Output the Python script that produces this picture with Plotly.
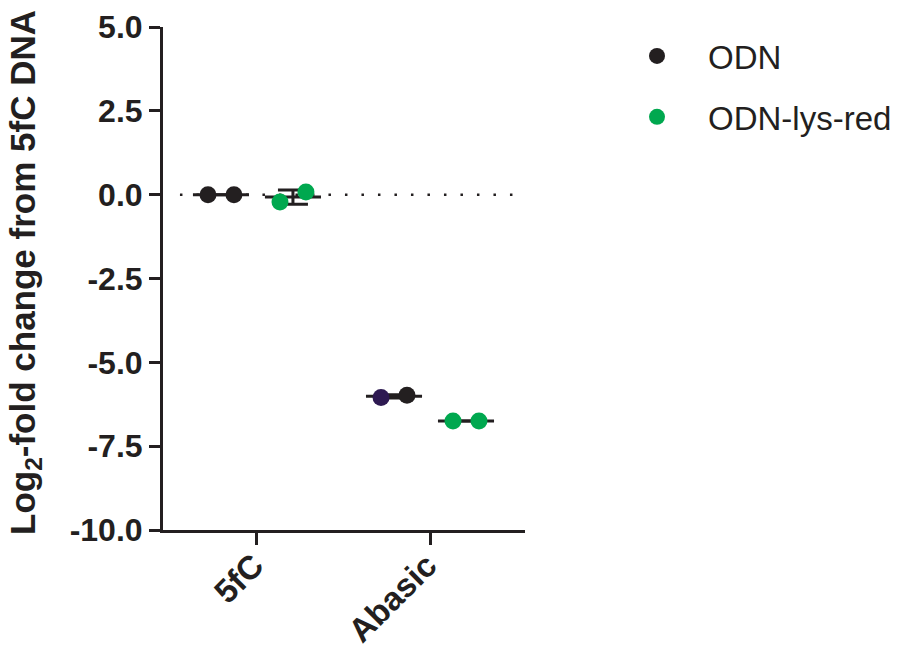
import numpy as np
import plotly.graph_objects as go

# ---- data ----
categories = ["5fC", "Abasic"]
series_names = ["ODN", "ODN-lys-red"]
odn_rep1 = [0.0, -6.05]
odn_rep2 = [0.0, -5.98]
lys_rep1 = [-0.22, -6.75]
lys_rep2 = [0.08, -6.75]
y_tick_vals = [-10.0, -7.5, -5.0, -2.5, 0.0, 2.5, 5.0]
y_tick_text = ["-10.0", "-7.5", "-5.0", "-2.5", "0.0", "2.5", "5.0"]

BLACK = "#231f20"
GREEN = "#00a84f"
PURPLE = "#2e1a52"
FONT = "Liberation Sans, Arial, sans-serif"

group_off = 0.208
rep_off = 0.075
half_line = 0.162

fig = go.Figure()

groups = [
    (series_names[0], [odn_rep1, odn_rep2], -group_off,
     [[BLACK, BLACK], [PURPLE, BLACK]]),
    (series_names[1], [lys_rep1, lys_rep2], group_off,
     [[GREEN, GREEN], [GREEN, GREEN]]),
]

# mean lines + SD error bars first (behind points)
for name, reps, goff, cols in groups:
    for i, cat in enumerate(categories):
        vals = np.array([reps[0][i], reps[1][i]])
        m = vals.mean()
        sd = vals.std(ddof=1)
        cx = i + goff
        fig.add_trace(go.Scatter(
            x=[cx - half_line, cx + half_line], y=[m, m], mode="lines",
            line=dict(color=BLACK, width=3), showlegend=False, hoverinfo="skip"))
        fig.add_trace(go.Scatter(
            x=[cx], y=[m], mode="markers", marker=dict(size=1, color="rgba(0,0,0,0)"),
            error_y=dict(type="data", array=[sd], visible=True, color=BLACK,
                         thickness=3, width=15),
            showlegend=False, hoverinfo="skip"))

for gi, (name, reps, goff, cols) in enumerate(groups):
    xs, ys, cs = [], [], []
    for i, cat in enumerate(categories):
        for r in range(2):
            xs.append(i + goff + (-rep_off if r == 0 else rep_off))
            ys.append(reps[r][i])
            cs.append(cols[i][r])
    fig.add_trace(go.Scatter(
        x=xs, y=ys, mode="markers", name=name, legendgroup=name,
        marker=dict(size=17, color=cs, line=dict(width=0))))

# dotted reference line at 0
fig.add_shape(type="line", xref="x", yref="y", x0=-0.445, x1=1.49, y0=0, y1=0,
              line=dict(color=BLACK, width=2.5, dash="2.5px,14px"), layer="below")

fig.update_layout(
    width=909, height=648,
    margin=dict(l=163, r=384, t=27, b=118, pad=0),
    paper_bgcolor="white", plot_bgcolor="white",
    font=dict(family=FONT, color=BLACK),
    showlegend=True,
    legend=dict(xref="container", yref="container", x=606 / 909, y=1 - 28 / 648,
                xanchor="left", yanchor="top", font=dict(size=33, color=BLACK),
                tracegroupgap=15, itemwidth=92, bgcolor="rgba(0,0,0,0)"),
    xaxis=dict(range=[-0.543, 1.549], tickvals=[0, 1], ticktext=categories,
               tickangle=-45, ticks="outside", ticklen=12, tickwidth=3,
               tickcolor=BLACK, showline=True, linewidth=3, linecolor=BLACK,
               showgrid=False, zeroline=False, automargin=False,
               ticklabelstandoff=-12, ticklabelshift=-3,
               tickfont=dict(size=33, color=BLACK, family=FONT, weight="bold")),
    yaxis=dict(range=[-10, 5], tickvals=y_tick_vals, ticktext=y_tick_text,
               ticks="outside", ticklen=11, tickwidth=3, tickcolor=BLACK,
               showline=True, linewidth=3, linecolor=BLACK, showgrid=False,
               zeroline=False, automargin=False,
               tickfont=dict(size=32, color=BLACK, family=FONT, weight="bold")),
)

fig.add_annotation(
    text="Log<sub>2</sub>-fold change from 5fC DNA", textangle=-90,
    xref="paper", yref="paper", x=(25 - 163) / 362, y=(530 - 273) / 503,
    xanchor="center", yanchor="middle", showarrow=False,
    font=dict(size=35, color=BLACK, family=FONT, weight="bold"))

fig.write_html("out.html")
